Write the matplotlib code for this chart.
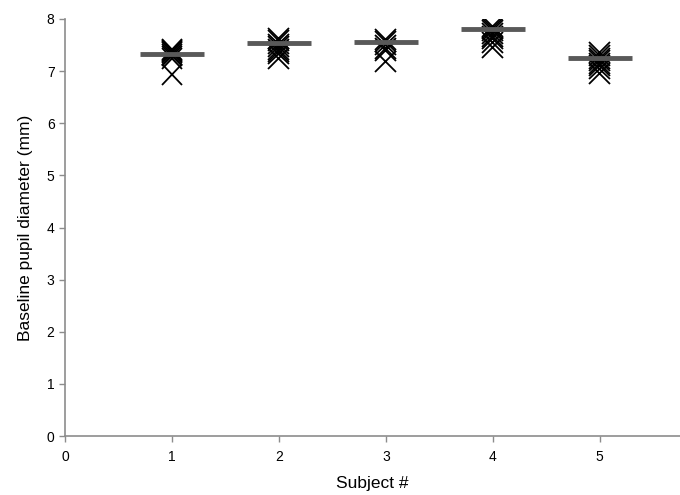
import matplotlib
matplotlib.use("Agg")
import matplotlib.pyplot as plt
import matplotlib.patheffects as pe

plt.rcParams['font.family'] = ['Liberation Sans', 'DejaVu Sans']

subjects = [1, 2, 3, 4, 5]
trials = [
    [7.41, 7.39, 7.37, 7.35, 7.32, 7.29, 7.25, 6.93],
    [7.63, 7.58, 7.52, 7.47, 7.42, 7.38, 7.33, 7.24],
    [7.60, 7.57, 7.50, 7.44, 7.40, 7.18],
    [7.85, 7.82, 7.78, 7.72, 7.67, 7.62, 7.55, 7.46],
    [7.35, 7.30, 7.25, 7.20, 7.15, 7.10, 7.04, 6.95],
]
means = [7.33, 7.53, 7.56, 7.81, 7.25]
xticks = [0, 1, 2, 3, 4, 5]
yticks = [0, 1, 2, 3, 4, 5, 6, 7, 8]

fig = plt.figure(figsize=(6.8, 4.95), dpi=100)
ax = fig.add_axes([65/680, (495-436)/495, 1 - 65/680, (436-19)/495])

shadow = [pe.SimplePatchShadow(offset=(0, -3), shadow_rgbFace='#999999', alpha=0.3), pe.Normal()]
for s, vals in zip(subjects, trials):
    ax.plot([s]*len(vals), vals, linestyle='none', marker='x', markersize=15,
            markeredgewidth=1.3, color='black', path_effects=shadow, zorder=3)

for s, m in zip(subjects, means):
    ax.plot([s - 0.3, s + 0.3], [m, m], color='#595959', linewidth=3.5,
            solid_capstyle='butt', zorder=4)

ax.set_xlim(0, 5.75)
ax.set_ylim(0, 8)
ax.set_xticks(xticks)
ax.set_yticks(yticks)
for side in ['top', 'right']:
    ax.spines[side].set_visible(False)
for side in ['left', 'bottom']:
    ax.spines[side].set_color('#8c8c8c')
    ax.spines[side].set_linewidth(1.2)
ax.tick_params(axis='both', colors='#8c8c8c', labelcolor='black', labelsize=10,
               length=4, width=1.0, direction='out')
ax.tick_params(axis='x', pad=6)
ax.set_xlabel('Subject #', fontsize=12.5, labelpad=9)
ax.set_ylabel('Baseline pupil diameter (mm)', fontsize=12.5, labelpad=10)

fig.savefig('out.png', dpi=100)
